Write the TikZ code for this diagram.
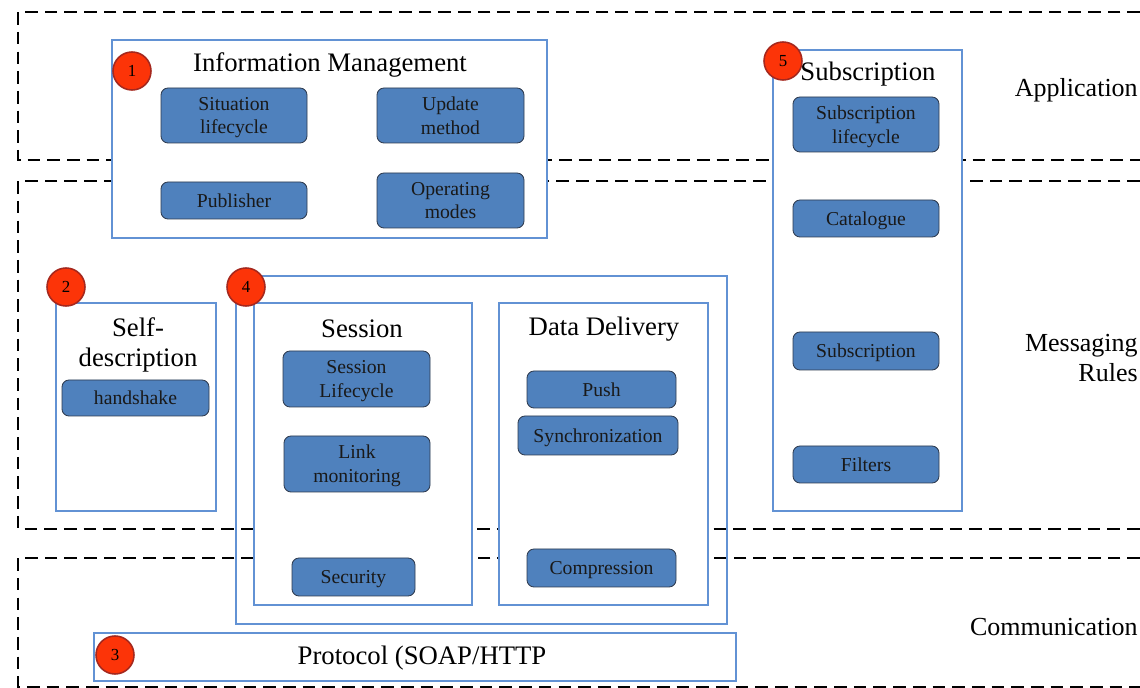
\documentclass[tikz,border=0pt]{standalone}
\usepackage{fontspec}
\setmainfont{Liberation Serif}
\definecolor{frameblue}{RGB}{98,146,212}
\definecolor{itemblue}{RGB}{79,129,189}
\definecolor{itemedge}{RGB}{45,58,78}
\definecolor{badgered}{RGB}{252,52,8}
\definecolor{badgeedge}{RGB}{165,40,30}

\tikzset{
  zone/.style={line width=1.9pt, dash pattern=on 9pt off 5pt},
  frame/.style={draw=frameblue, line width=1.3pt, fill=white},
  item/.style={draw=itemedge, line width=0.6pt, fill=itemblue, rounded corners=5pt,
    inner sep=0pt, align=center, text=black!90, text depth=0pt, font=\fontsize{14}{17}\selectfont},
  wh/.style 2 args={minimum width=#1*0.025cm, minimum height=#2*0.025cm},
  badge/.style={circle, draw=badgeedge, line width=1.1pt, fill=badgered, minimum size=0.95cm,
    inner sep=0pt, font=\fontsize{12}{12}\selectfont},
  title/.style={align=center, inner sep=0pt, font=\fontsize{19}{21}\selectfont},
  layer/.style={align=right, anchor=east, inner sep=0pt, font=\fontsize{18.5}{22}\selectfont}
}

\begin{document}
\begin{tikzpicture}[x=0.025cm, y=-0.025cm]
  \useasboundingbox (0,0) rectangle (1140,688);
  \draw[zone] (1140,12) -- (18,12) -- (18,160) -- (1140,160);
  \draw[zone] (1140,181) -- (18,181) -- (18,529) -- (1140,529);
  \draw[zone] (1140,558) -- (18,558) -- (18,687) -- (1140,687);
  \node[layer] (app) at (1138,90) {Application};
  \node[layer] (msg) at (1138,358) {Messaging\\Rules};
  \node[layer] (com) at (1138,627) {Communication};
  \draw[frame] (112,40) rectangle (547,238);
  \node[title] (imtitle) at (330,65) {Information Management};
  \node[item, wh={146}{55}] (sitlc) at (234,115.5) {Situation\\lifecycle};
  \node[item, wh={147}{55}] (upd) at (450.5,115.5) {Update\\method};
  \node[item, wh={146}{37}] (pub) at (234,200.5) {Publisher};
  \node[item, wh={147}{55}] (opm) at (450.5,200.5) {Operating\\modes};
  \node[badge] (b1) at (132,71) {1};
  \draw[frame] (773,50) rectangle (962,511);
  \node[title] (subtitle) at (868,74) {Subscription};
  \node[item, wh={146}{55}] (sublc) at (866,124.5) {Subscription\\lifecycle};
  \node[item, wh={146}{37}] (cat) at (866,218.5) {Catalogue};
  \node[item, wh={146}{38}] (sub) at (866,351) {Subscription};
  \node[item, wh={146}{37}] (filt) at (866,464.5) {Filters};
  \node[badge] (b5) at (783,61) {5};
  \draw[frame] (56,303) rectangle (216,511);
  \node[title] (sdtitle) at (138,345) {Self-\\description};
  \node[item, wh={147}{36}] (hand) at (135.5,398) {handshake};
  \node[badge] (b2) at (66,287) {2};
  \draw[frame, fill=none] (236,276) rectangle (727,624);
  \draw[frame] (254,303) rectangle (472,605);
  \node[title] (sestitle) at (362,329) {Session};
  \node[item, wh={147}{56}] (seslc) at (356.5,379) {Session\\Lifecycle};
  \node[item, wh={146}{56}] (link) at (357,464) {Link\\monitoring};
  \node[item, wh={123}{38}] (sec) at (353.5,577) {Security};
  \draw[frame] (499,303) rectangle (708,605);
  \node[title] (ddtitle) at (604,329) {Data Delivery};
  \node[item, wh={149}{37}] (push) at (601.5,389.5) {Push};
  \node[item, wh={160}{39}] (sync) at (598,435.5) {Synchronization};
  \node[item, wh={149}{38}] (comp) at (601.5,568) {Compression};
  \node[badge] (b4) at (246,287) {4};
  \draw[frame] (94,633) rectangle (736,681);
  \node[title] (prtitle) at (422,658) {Protocol (SOAP/HTTP};
  \node[badge] (b3) at (115,655) {3};
\end{tikzpicture}
\end{document}
